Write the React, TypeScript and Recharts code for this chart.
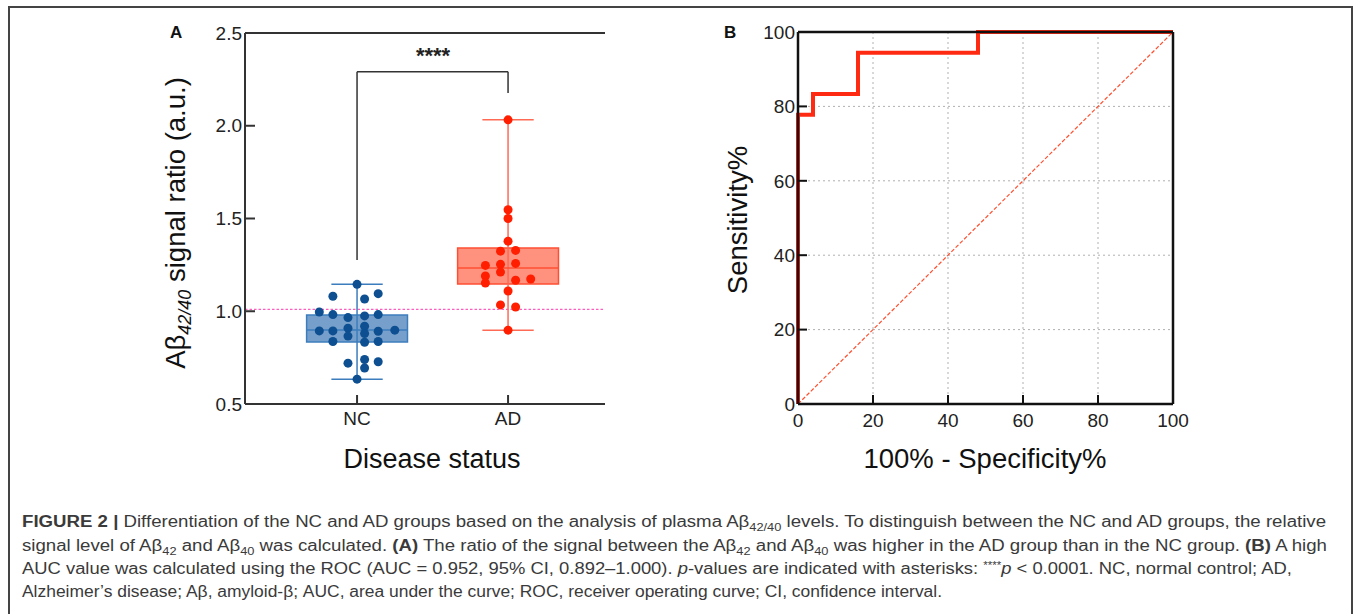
import React from 'react';
import {
  ComposedChart,
  LineChart,
  Line,
  XAxis,
  YAxis,
  Scatter,
  ReferenceArea,
  ReferenceLine,
  CartesianGrid,
} from 'recharts';

// ---------- Panel A data ----------
const categories = ['NC', 'AD'];
const ncValues = [1.145, 1.081, 1.066, 1.095, 0.996, 0.982, 0.966, 0.975, 0.982, 0.894, 0.894, 0.909, 0.919, 0.880, 0.892, 0.898, 0.866, 0.837, 0.833, 0.837, 0.720, 0.740, 0.694, 0.728, 0.634];
const ncJitter = [0, -0.16, 0.05, 0.14, -0.25, -0.16, -0.06, 0.05, 0.14, -0.25, -0.16, -0.06, 0.05, 0.05, 0.14, 0.25, -0.06, -0.16, 0.05, 0.14, -0.06, 0.05, 0.05, 0.14, 0];
const adValues = [2.032, 1.547, 1.500, 1.378, 1.324, 1.328, 1.247, 1.253, 1.258, 1.211, 1.190, 1.152, 1.167, 1.174, 1.109, 1.034, 1.023, 0.898];
const adJitter = [0, 0, 0, 0, -0.05, 0.05, -0.15, -0.05, 0.05, -0.05, -0.15, -0.15, 0.05, 0.15, 0, -0.05, 0.05, 0];
const q1 = [0.834, 1.147];
const medians = [0.899, 1.233];
const q3 = [0.98, 1.341];
const whiskerLow = [0.634, 0.898];
const whiskerHigh = [1.145, 2.032];
const yTicksA = [0.5, 1.0, 1.5, 2.0, 2.5];
const cutoff = 1.01;
const bracketLeftBottom = 1.276;
const bracketTop = 2.291;
const bracketRightBottom = 2.177;
const sigLabel = '****';

// ---------- Panel B data ----------
const rocFpr = [0, 0, 4, 4, 16, 16, 48, 48, 100];
const rocTpr = [0, 77.78, 77.78, 83.33, 83.33, 94.44, 94.44, 100, 100];
const diagFpr = [0, 100];
const diagTpr = [0, 100];
const rocTicks = [0, 20, 40, 60, 80, 100];

const FONT = '"Liberation Sans", Arial, Helvetica, sans-serif';

const ncPoints = ncValues.map((y, i) => ({ x: 0 + ncJitter[i], y }));
const adPoints = adValues.map((y, i) => ({ x: 1 + adJitter[i], y }));
const rocData = rocFpr.map((x, i) => ({ x, y: rocTpr[i] }));
const diagData = diagFpr.map((x, i) => ({ x, y: diagTpr[i] }));

const BOX_HALF = 0.334;
const CAP_HALF = 0.17;
const groupStyle = [
  { fill: '#6f9bc8', stroke: '#3c7dbd', dot: '#0d4f91', line: '#3c7dbd' },
  { fill: '#ff8c78', stroke: '#ff4f33', dot: '#ff1e00', line: '#ff6a55' },
];

const tickStyle = { fill: '#222', fontSize: 19, fontFamily: FONT };

function PanelA() {
  const els: React.ReactNode[] = [];
  categories.forEach((c, i) => {
    const s = groupStyle[i];
    els.push(
      <ReferenceArea key={`box${i}`} x1={i - BOX_HALF} x2={i + BOX_HALF} y1={q1[i]} y2={q3[i]} fill={s.fill} fillOpacity={0.95} stroke={s.stroke} strokeWidth={1.5} ifOverflow="visible" />
    );
    els.push(
      <ReferenceLine key={`wh${i}`} segment={[{ x: i, y: whiskerLow[i] }, { x: i, y: whiskerHigh[i] }]} stroke={s.line} strokeWidth={1.5} ifOverflow="visible" />
    );
    els.push(
      <ReferenceLine key={`capL${i}`} segment={[{ x: i - CAP_HALF, y: whiskerLow[i] }, { x: i + CAP_HALF, y: whiskerLow[i] }]} stroke={s.line} strokeWidth={1.5} ifOverflow="visible" />
    );
    els.push(
      <ReferenceLine key={`capH${i}`} segment={[{ x: i - CAP_HALF, y: whiskerHigh[i] }, { x: i + CAP_HALF, y: whiskerHigh[i] }]} stroke={s.line} strokeWidth={1.5} ifOverflow="visible" />
    );
    els.push(
      <ReferenceLine key={`med${i}`} segment={[{ x: i - BOX_HALF, y: medians[i] }, { x: i + BOX_HALF, y: medians[i] }]} stroke={s.stroke} strokeWidth={1.5} ifOverflow="visible" />
    );
  });
  return (
    <ComposedChart width={620} height={480} margin={{ top: 32, right: 15, bottom: 75, left: 244 }}>
      <XAxis
        type="number"
        dataKey="x"
        domain={[-0.742, 1.642]}
        ticks={[0, 1]}
        tickFormatter={(v: number) => categories[Math.round(v)]}
        allowDataOverflow
        height={1}
        tickSize={-9}
        tickMargin={17}
        tickLine={{ stroke: '#333', strokeWidth: 2 }}
        axisLine={{ stroke: '#333', strokeWidth: 2 }}
        tick={tickStyle}
      />
      <XAxis
        xAxisId="top"
        orientation="top"
        type="number"
        domain={[-0.742, 1.642]}
        height={1}
        tick={false}
        tickLine={false}
        axisLine={{ stroke: '#333', strokeWidth: 2 }}
      />
      <YAxis
        type="number"
        dataKey="y"
        domain={[0.5, 2.5]}
        ticks={yTicksA}
        tickFormatter={(v: number) => v.toFixed(1)}
        allowDataOverflow
        width={1}
        tickSize={-10}
        tickMargin={13}
        tickLine={{ stroke: '#333', strokeWidth: 2 }}
        axisLine={{ stroke: '#333', strokeWidth: 2 }}
        tick={tickStyle}
      />
      <ReferenceLine y={cutoff} stroke="#ff5cc0" strokeOpacity={1} strokeDasharray="2.5 2" strokeWidth={1.3} />
      {els}
      <ReferenceLine segment={[{ x: 0, y: bracketLeftBottom }, { x: 0, y: bracketTop }]} stroke="#333" strokeWidth={1.5} ifOverflow="visible" />
      <ReferenceLine segment={[{ x: 0, y: bracketTop }, { x: 1, y: bracketTop }]} stroke="#333" strokeWidth={1.5} ifOverflow="visible" />
      <ReferenceLine segment={[{ x: 1, y: bracketTop }, { x: 1, y: bracketRightBottom }]} stroke="#333" strokeWidth={1.5} ifOverflow="visible" />
      <Scatter
        data={ncPoints}
        isAnimationActive={false}
        shape={(p: any) => <circle cx={p.cx} cy={p.cy} r={4.5} fill={groupStyle[0].dot} />}
      />
      <Scatter
        data={adPoints}
        isAnimationActive={false}
        shape={(p: any) => <circle cx={p.cx} cy={p.cy} r={4.5} fill={groupStyle[1].dot} />}
      />
    </ComposedChart>
  );
}

function PanelB() {
  const axisLine = { stroke: '#111', strokeWidth: 2.5 };
  const tickLine = { stroke: '#111', strokeWidth: 2 };
  return (
    <LineChart width={500} height={480} data={rocData} margin={{ top: 32, right: 27, bottom: 75, left: 97 }}>
      <CartesianGrid stroke="#b0b0b0" strokeDasharray="2 3" strokeWidth={1} />
      <XAxis
        type="number"
        dataKey="x"
        domain={[0, 100]}
        ticks={rocTicks}
        height={1}
        tickSize={-9}
        tickMargin={19}
        axisLine={axisLine}
        tickLine={tickLine}
        tick={tickStyle}
      />
      <XAxis
        xAxisId="top"
        orientation="top"
        type="number"
        domain={[0, 100]}
        ticks={rocTicks}
        height={1}
        mirror
        tick={false}
        tickSize={10}
        axisLine={axisLine}
        tickLine={tickLine}
      />
      <YAxis
        type="number"
        domain={[0, 100]}
        ticks={rocTicks}
        width={1}
        tickSize={-9}
        tickMargin={12}
        axisLine={axisLine}
        tickLine={tickLine}
        tick={tickStyle}
      />
      <YAxis
        yAxisId="right"
        orientation="right"
        type="number"
        domain={[0, 100]}
        ticks={rocTicks}
        width={1}
        mirror
        tick={false}
        tickSize={10}
        axisLine={axisLine}
        tickLine={tickLine}
      />
      <Line
        data={diagData}
        dataKey="y"
        type="linear"
        stroke="#ff5030"
        strokeWidth={1.2}
        strokeDasharray="4 2"
        dot={false}
        isAnimationActive={false}
      />
      <Line
        dataKey="y"
        type="linear"
        stroke="#ff2a12"
        strokeWidth={4}
        strokeLinejoin="miter"
        dot={false}
        isAnimationActive={false}
      />
    </LineChart>
  );
}

const capStyle: React.CSSProperties = { fontFamily: FONT };

export default function App() {
  const abs = (s: React.CSSProperties): React.CSSProperties => ({ position: 'absolute', ...s });
  return (
    <div style={{ position: 'absolute', left: 0, top: 0, width: 1358, height: 614, overflow: 'hidden', background: '#fff', fontFamily: FONT }}>
      <div style={abs({ left: 8, top: 6, width: 1345, height: 640, border: '2px solid #444', boxSizing: 'border-box' })} />
      <div style={abs({ left: 0, top: 0 })}>
        <PanelA />
      </div>
      <div style={abs({ left: 700, top: 0 })}>
        <PanelB />
      </div>
      {/* panel letters */}
      <div style={abs({ left: 170, top: 23, fontSize: 17, fontWeight: 'bold', color: '#111' })}>A</div>
      <div style={abs({ left: 724, top: 23, fontSize: 17, fontWeight: 'bold', color: '#111' })}>B</div>
      {/* significance */}
      <div style={abs({ left: 433, top: 56, transform: 'translate(-50%,-50%)', fontSize: 22, fontWeight: 'bold', color: '#222' })}>{sigLabel}</div>
      {/* axis titles */}
      <div style={abs({ left: 178, top: 223, transform: 'translate(-50%,-50%) rotate(-90deg)', whiteSpace: 'nowrap', fontSize: 27.5, color: '#111' })}>
        Aβ<sub style={{ fontSize: 18, fontStyle: 'italic' }}>42/40</sub> signal ratio (a.u.)
      </div>
      <div style={abs({ left: 432, top: 459, transform: 'translate(-50%,-50%)', whiteSpace: 'nowrap', fontSize: 27, color: '#111' })}>Disease status</div>
      <div style={abs({ left: 738, top: 220, transform: 'translate(-50%,-50%) rotate(-90deg)', whiteSpace: 'nowrap', fontSize: 27.5, color: '#111' })}>Sensitivity%</div>
      <div style={abs({ left: 985, top: 459, transform: 'translate(-50%,-50%)', whiteSpace: 'nowrap', fontSize: 27.5, color: '#111' })}>100% - Specificity%</div>
      {/* caption */}
      <svg style={abs({ left: 0, top: 500 })} width={1358} height={114}>
        <g fill="#3a3a3a" fontSize={16} style={capStyle}>
          <text x={22} y={27} textLength={1304} lengthAdjust="spacingAndGlyphs">
            <tspan fontWeight="bold">FIGURE 2 | </tspan>
            Differentiation of the NC and AD groups based on the analysis of plasma Aβ
            <tspan dy={4} fontSize={11}>42/40</tspan>
            <tspan dy={-4}> levels. To distinguish between the NC and AD groups, the relative</tspan>
          </text>
          <text x={22} y={51} textLength={1305} lengthAdjust="spacingAndGlyphs">
            signal level of Aβ<tspan dy={4} fontSize={11}>42</tspan>
            <tspan dy={-4}> and Aβ</tspan><tspan dy={4} fontSize={11}>40</tspan>
            <tspan dy={-4}> was calculated. </tspan><tspan fontWeight="bold">(A)</tspan>
            <tspan> The ratio of the signal between the Aβ</tspan><tspan dy={4} fontSize={11}>42</tspan>
            <tspan dy={-4}> and Aβ</tspan><tspan dy={4} fontSize={11}>40</tspan>
            <tspan dy={-4}> was higher in the AD group than in the NC group. </tspan><tspan fontWeight="bold">(B)</tspan>
            <tspan> A high</tspan>
          </text>
          <text x={22} y={74} textLength={1270} lengthAdjust="spacingAndGlyphs">
            AUC value was calculated using the ROC (AUC = 0.952, 95% CI, 0.892–1.000). <tspan fontStyle="italic">p</tspan>
            <tspan>-values are indicated with asterisks: </tspan>
            <tspan dy={-5} fontSize={10}>****</tspan><tspan dy={5} fontStyle="italic">p</tspan>
            <tspan> &lt; 0.0001. NC, normal control; AD,</tspan>
          </text>
          <text x={22} y={97} textLength={920} lengthAdjust="spacingAndGlyphs">
            Alzheimer’s disease; Aβ, amyloid-β; AUC, area under the curve; ROC, receiver operating curve; CI, confidence interval.
          </text>
        </g>
      </svg>
    </div>
  );
}
